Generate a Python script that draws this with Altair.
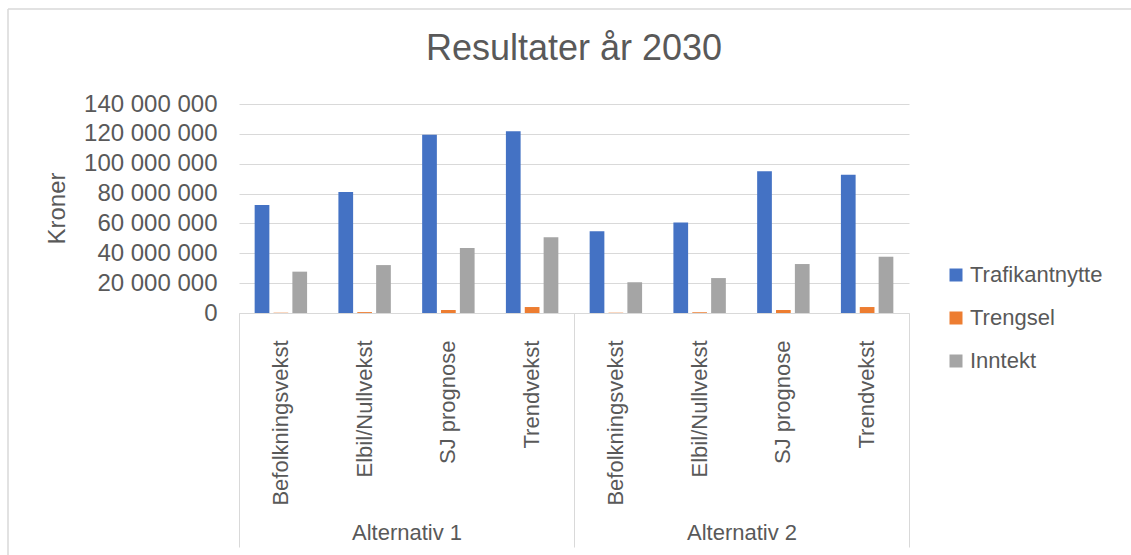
import altair as alt
import pandas as pd

alternativer = ["Alternativ 1", "Alternativ 2"]
scenarier = ["Befolkningsvekst", "Elbil/Nullvekst", "SJ prognose", "Trendvekst"]
serier = ["Trafikantnytte", "Trengsel", "Inntekt"]

# values per (alternativ, scenario), Alternativ 1 first
trafikantnytte = [72.3e6, 81.0e6, 119.4e6, 121.7e6, 54.7e6, 60.7e6, 94.9e6, 92.6e6]
trengsel = [0.2e6, 0.6e6, 2.0e6, 4.0e6, 0.2e6, 0.5e6, 2.0e6, 4.0e6]
inntekt = [27.7e6, 32.1e6, 43.5e6, 50.7e6, 20.6e6, 23.4e6, 32.8e6, 37.7e6]

y_ticks = [0, 20_000_000, 40_000_000, 60_000_000, 80_000_000,
           100_000_000, 120_000_000, 140_000_000]
farger = ["#4472C4", "#ED7D31", "#A5A5A5"]

TXT = "#595959"
GRID = "#d9d9d9"
FONT = "Liberation Sans"

keys = [f"{a}|{s}" for a in alternativer for s in scenarier]
rows = []
for i, k in enumerate(keys):
    for serie, vals in zip(serier, [trafikantnytte, trengsel, inntekt]):
        rows.append({"key": k, "serie": serie, "verdi": vals[i]})
df = pd.DataFrame(rows)

bars = alt.Chart(df).mark_bar().encode(
    x=alt.X(
        "key:N", sort=keys,
        scale=alt.Scale(paddingInner=0, paddingOuter=0),
        axis=alt.Axis(
            title=None, labelExpr="split(datum.label, '|')[1]", labelAngle=270,
            ticks=False, domainColor=GRID, domainWidth=1, labelPadding=27,
            labelFontSize=22, labelColor=TXT, labelFont=FONT, grid=False,
        ),
    ),
    xOffset=alt.XOffset("serie:N", sort=serier,
                        scale=alt.Scale(paddingInner=0.22, paddingOuter=0.83)),
    y=alt.Y(
        "verdi:Q", scale=alt.Scale(domain=[0, 140_000_000]),
        axis=alt.Axis(
            values=y_ticks,
            labelExpr="replace(format(datum.value, ',d'), regexp(',', 'g'), ' ')",
            title="Kroner", titleFontSize=24, titleColor=TXT, titleFontWeight="normal",
            titleFont=FONT, titleX=-182, titleY=104, titleAngle=270,
            titleAlign="center", titleBaseline="middle",
            labelFontSize=24, labelColor=TXT, labelFont=FONT, labelPadding=22,
            ticks=False, domain=False, gridColor=GRID, gridWidth=1,
        ),
    ),
    color=alt.Color(
        "serie:N", sort=serier,
        scale=alt.Scale(domain=serier, range=farger),
        legend=alt.Legend(
            title=None, orient="none", legendX=706, legendY=160,
            symbolType="square", symbolSize=169, symbolStrokeWidth=0,
            labelFontSize=22, labelColor=TXT, labelFont=FONT,
            rowPadding=21, labelOffset=3, padding=0,
        ),
    ),
)

groups = alt.Chart(pd.DataFrame({"alternativ": alternativer})).mark_point(opacity=0).encode(
    x=alt.X(
        "alternativ:N", sort=alternativer,
        scale=alt.Scale(paddingInner=0, paddingOuter=0),
        axis=alt.Axis(
            orient="bottom", title=None, tickBand="extent", tickSize=234,
            tickColor=GRID, tickWidth=1, domain=False, labelPadding=-25,
            labelAngle=0, labelFontSize=22, labelColor=TXT, labelFont=FONT,
            grid=False,
        ),
    ),
)

one = pd.DataFrame({"a": [0]})
border_left = alt.Chart(one).mark_rule(color=GRID, strokeWidth=1.5).encode(
    x=alt.value(-231), y=alt.value(-95), y2=alt.value(460)
)
border_top = alt.Chart(one).mark_rule(color=GRID, strokeWidth=1.5).encode(
    x=alt.value(-231), x2=alt.value(900), y=alt.value(-95)
)

chart = alt.layer(bars, groups, border_left, border_top).resolve_scale(
    x="independent"
).properties(
    width=670, height=209,
    padding={"left": 239, "top": 104, "right": 222, "bottom": 242},
    autosize=alt.AutoSizeParams(type="none"),
    background="white",
    title=alt.TitleParams(
        "Resultater år 2030", fontSize=36, color=TXT, font=FONT,
        fontWeight="normal", offset=-60, anchor="middle", frame="group",
    ),
).configure_view(stroke=None)

chart.save("out.html", embed_options={"renderer": "svg", "actions": False})
